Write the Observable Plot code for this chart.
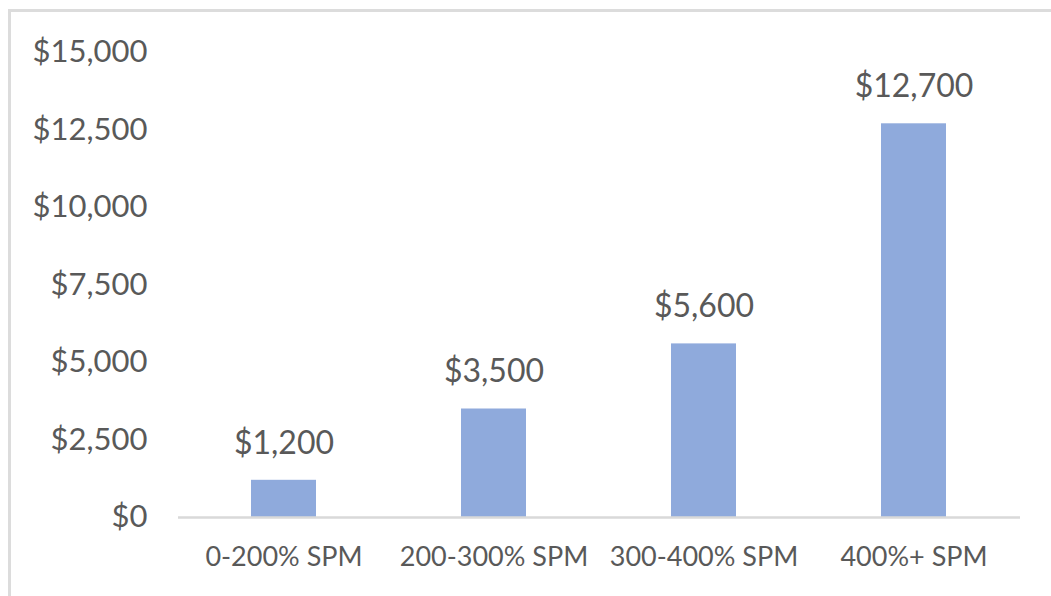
<!DOCTYPE html>
<html>
<head>
<meta charset="utf-8">
<script src="https://cdn.jsdelivr.net/npm/d3@7"></script>
<script src="https://cdn.jsdelivr.net/npm/@observablehq/plot@0.6"></script>
<style>
  html, body { margin: 0; padding: 0; background: #fff; }
  #wrap { position: relative; width: 1051px; height: 596px; overflow: hidden; }
  #frame {
    position: absolute; left: 8px; top: 9px; width: 1100px; height: 700px;
    border-top: 3px solid #dcdcdc; border-left: 3px solid #dcdcdc;
    box-sizing: border-box;
  }
  #chart { position: absolute; left: 0; top: 0; }
</style>
</head>
<body>
<div id="wrap">
  <div id="frame"></div>
  <div id="chart"></div>
</div>
<script>
// Income groups (relative to the Supplemental Poverty Measure) and dollar amounts
const groups = ["0-200% SPM", "200-300% SPM", "300-400% SPM", "400%+ SPM"];
const amounts = [1200, 3500, 5600, 12700];
const yTicks = [0, 2500, 5000, 7500, 10000, 12500, 15000];

const data = groups.map((g, i) => ({group: g, amount: amounts[i]}));
const dollars = d => "$" + d3.format(",")(d);

const textColor = "#595959";
const fontFamily = "Lato, 'Open Sans', sans-serif";

const chart = Plot.plot({
  width: 1051,
  height: 596,
  marginLeft: 178,
  marginRight: 31,
  marginTop: 52,
  marginBottom: 79,
  style: {fontFamily, fontSize: "31px", color: textColor, background: "transparent"},
  x: {domain: groups, paddingInner: 0.69, paddingOuter: 0.345, align: 0.5},
  y: {domain: [0, 15000]},
  marks: [
    Plot.axisY({ticks: yTicks, tickFormat: dollars, tickSize: 0, tickPadding: 31, fill: textColor, fontSize: 31, label: null}),
    Plot.axisX({tickSize: 0, tickPadding: 29, fill: textColor, fontSize: 27, label: null}),
    Plot.barY(data, {x: "group", y: "amount", fill: "#8faadc"}),
    Plot.ruleY([0], {stroke: "#d9d9d9", strokeWidth: 2.5}),
    Plot.text(data, {x: "group", y: "amount", text: d => dollars(d.amount), dy: -37, fill: textColor, fontSize: 32, lineAnchor: "middle"})
  ]
});
document.getElementById("chart").appendChild(chart);
</script>
</body>
</html>
